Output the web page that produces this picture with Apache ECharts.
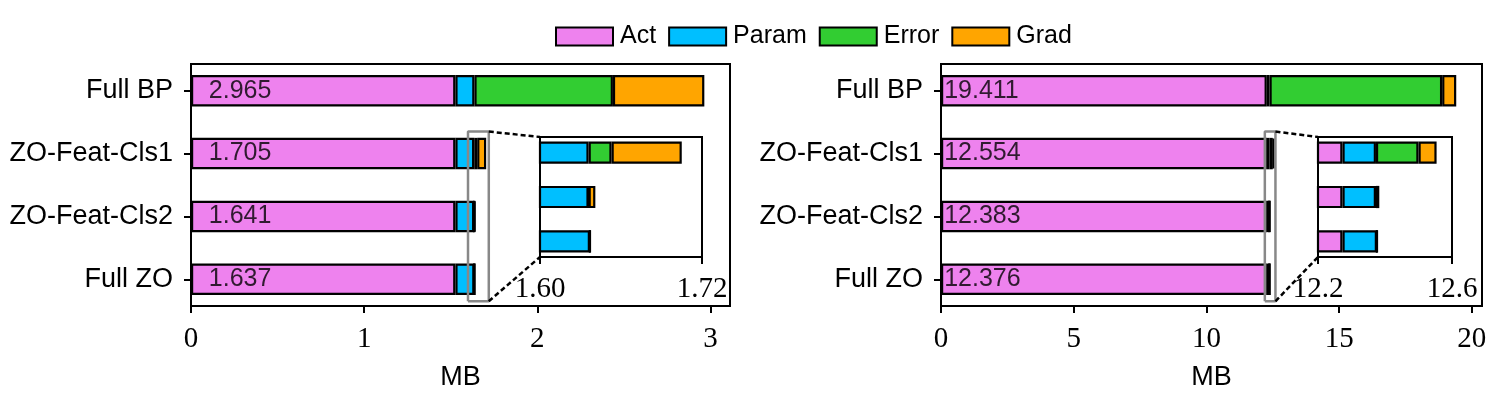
<!DOCTYPE html>
<html><head><meta charset="utf-8">
<script src="https://cdn.jsdelivr.net/npm/echarts@6/dist/echarts.min.js"></script>
<style>html,body{margin:0;padding:0;background:#fff}#c{width:1494px;height:399px}</style>
</head><body><div id="c"></div>
<script>
// ---------------- data ----------------
const categories = ['Full ZO', 'ZO-Feat-Cls2', 'ZO-Feat-Cls1', 'Full BP']; // bottom -> top
const seriesNames = ['Act', 'Param', 'Error', 'Grad'];
const seriesColors = ['#EE82EE', '#00BFFF', '#32CD32', '#FFA500'];

// left panel (MB)
const actLeft   = [1.527, 1.527, 1.527, 1.527];
const paramLeft = [0.110, 0.109, 0.109, 0.110];
const errorLeft = [0,     0,     0.017, 0.800];
const gradLeft  = [0,     0.005, 0.052, 0.528];
const totalsLeft = [1.637, 1.641, 1.705, 2.965];

// right panel (MB)
const actRight   = [12.273, 12.273, 12.273, 12.273];
const paramRight = [0.103,  0.100,  0.100,  0.103];
const errorRight = [0,      0,      0.127,  6.505];
const gradRight  = [0,      0.010,  0.054,  0.530];
const totalsRight = [12.376, 12.383, 12.554, 19.411];

// tick labels
const xTicksLeft = [0, 1, 2, 3];
const xTicksRight = [0, 5, 10, 15, 20];
const insetTicksLeft = [1.60, 1.72];
const insetTicksRight = [12.2, 12.6];
const insetYRange = [-0.35, 2.35];
const insetCount = 3; // the first three categories are shown in the insets

// ---------------- layout ----------------
const SANS = "'Liberation Sans', Arial, sans-serif";
const SERIF = "'Liberation Serif', 'Times New Roman', serif";
const MAIN_Y = [-0.425, 3.425];
const MAIN_TOP = 64, MAIN_H = 242;
const INSET_TOP = 137, INSET_H = 120;

const panels = [
  {left: 191, width: 539, values: [actLeft, paramLeft, errorLeft, gradLeft], totals: totalsLeft,
   ticks: xTicksLeft, insetLeft: 540, insetWidth: 162, insetTicks: insetTicksLeft, insetDigits: 2},
  {left: 941, width: 541, values: [actRight, paramRight, errorRight, gradRight], totals: totalsRight,
   ticks: xTicksRight, insetLeft: 1318, insetWidth: 134, insetTicks: insetTicksRight, insetDigits: 1}
];

const grid = [], xAxis = [], yAxis = [], series = [];
const tickLine = {color: '#000', width: 2};

panels.forEach((p, pi) => {
  const base = grid.length;
  p.base = base;
  const xmax = Math.max(...p.totals) * 1.05;
  const unitMain = MAIN_H / (MAIN_Y[1] - MAIN_Y[0]);
  const unitInset = INSET_H / (insetYRange[1] - insetYRange[0]);

  // base+0: main frame (value y axis)
  grid.push({left: p.left, top: MAIN_TOP, width: p.width, height: MAIN_H, show: true,
             borderColor: '#000', borderWidth: 2, backgroundColor: 'transparent'});
  // base+1: main category grid, bands aligned with the frame's value scale
  grid.push({left: p.left, width: p.width, top: MAIN_TOP - (3.5 - MAIN_Y[1]) * unitMain,
             height: 4 * unitMain});
  // base+2: inset frame
  grid.push({left: p.insetLeft, top: INSET_TOP, width: p.insetWidth, height: INSET_H, show: true,
             borderColor: '#000', borderWidth: 2, backgroundColor: 'transparent'});
  // base+3: inset category grid
  grid.push({left: p.insetLeft, width: p.insetWidth,
             top: INSET_TOP - (insetCount - 0.5 - insetYRange[1]) * unitInset,
             height: insetCount * unitInset});

  // x axes
  xAxis.push({type: 'value', gridIndex: base, min: 0, max: xmax,
    axisLine: {show: false, onZero: false}, splitLine: {show: false},
    axisTick: {show: true, length: 7, lineStyle: tickLine, customValues: p.ticks},
    axisLabel: {fontFamily: SERIF, fontSize: 29, color: '#000', margin: 19, customValues: p.ticks},
    name: 'MB', nameLocation: 'middle', nameGap: 58,
    nameTextStyle: {fontFamily: SANS, fontSize: 27, color: '#000'}});
  xAxis.push({type: 'value', gridIndex: base + 1, min: 0, max: xmax, show: false});
  xAxis.push({type: 'value', gridIndex: base + 2, min: p.insetTicks[0], max: p.insetTicks[1],
    axisLine: {show: false, onZero: false}, splitLine: {show: false},
    axisTick: {show: true, length: 7, lineStyle: tickLine, customValues: p.insetTicks},
    axisLabel: {fontFamily: SERIF, fontSize: 29, color: '#000', margin: 18, customValues: p.insetTicks,
      formatter: (v) => Number(v).toFixed(p.insetDigits)}});
  xAxis.push({type: 'value', gridIndex: base + 3, min: p.insetTicks[0], max: p.insetTicks[1], show: false});

  // y axes
  yAxis.push({type: 'value', gridIndex: base, min: MAIN_Y[0], max: MAIN_Y[1], show: false});
  yAxis.push({type: 'category', gridIndex: base + 1, data: categories,
    axisLine: {show: false}, splitLine: {show: false},
    axisTick: {show: true, alignWithLabel: true, length: 7, lineStyle: tickLine},
    axisLabel: {fontFamily: SANS, fontSize: 27, color: '#000', margin: 18}});
  yAxis.push({type: 'value', gridIndex: base + 2, min: insetYRange[0], max: insetYRange[1], show: false});
  yAxis.push({type: 'category', gridIndex: base + 3, data: categories.slice(0, insetCount), show: false});

  // stacked bars, main + inset
  seriesNames.forEach((name, k) => {
    const style = {color: seriesColors[k], borderColor: '#000', borderWidth: 2.2};
    series.push({type: 'bar', name, xAxisIndex: base + 1, yAxisIndex: base + 1, stack: 'main' + pi,
      barWidth: '50%', data: p.values[k], itemStyle: style, silent: true, animation: false});
    series.push({type: 'bar', name, xAxisIndex: base + 3, yAxisIndex: base + 3, stack: 'inset' + pi,
      barWidth: '50%', data: p.values[k].slice(0, insetCount), itemStyle: style, clip: true,
      silent: true, animation: false});
  });

  // total labels inside the bars, at x = 0.1
  series.push({type: 'scatter', xAxisIndex: base + 1, yAxisIndex: base + 1, symbolSize: 1,
    itemStyle: {color: 'transparent'}, silent: true, animation: false, z: 10,
    data: p.totals.map((t, i) => [0.1, i, t]),
    label: {show: true, position: 'right', distance: 0, color: '#000', fontFamily: SANS, fontSize: 25,
      formatter: (d) => d.data[2].toFixed(3)}});

  // zoom indicator rectangle in main axes
  const [x0, x1] = p.insetTicks, [y0, y1] = insetYRange;
  series.push({type: 'line', xAxisIndex: base, yAxisIndex: base, symbol: 'none', silent: true,
    animation: false, z: 6,
    data: [[x0, y0], [x1, y0], [x1, y1], [x0, y1], [x0, y0]],
    lineStyle: {color: '#888888', width: 2.5}});
});

const chart = echarts.init(document.getElementById('c'), null, {renderer: 'canvas'});
chart.setOption({
  animation: false,
  backgroundColor: '#fff',
  legend: {data: seriesNames, left: 550, top: 19, itemWidth: 57, itemHeight: 18, itemGap: 12,
    icon: 'rect', selectedMode: false,
    itemStyle: {borderColor: '#000', borderWidth: 2},
    textStyle: {fontFamily: SANS, fontSize: 25, color: '#000', padding: [0, 0, 0, 2]}},
  grid, xAxis, yAxis, series
});

// dashed connector lines between the zoom rectangle and the inset
const graphics = [];
panels.forEach((p) => {
  const [x0, x1] = p.insetTicks, [y0, y1] = insetYRange;
  [y1, y0].forEach((yy) => {
    const a = chart.convertToPixel({gridIndex: p.base}, [x1, yy]);
    const b = chart.convertToPixel({gridIndex: p.base + 2}, [x0, yy]);
    graphics.push({type: 'line', z: 20, silent: true,
      shape: {x1: a[0], y1: a[1], x2: b[0], y2: b[1]},
      style: {stroke: '#000', lineWidth: 2.5, lineDash: [5, 3]}});
  });
});
chart.setOption({graphic: graphics});
</script>
</body></html>
